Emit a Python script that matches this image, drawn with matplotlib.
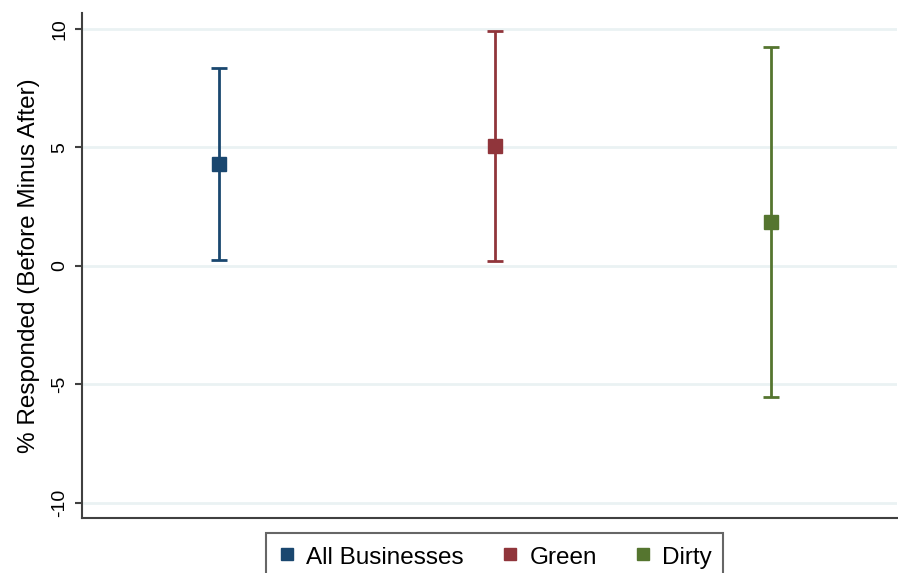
import matplotlib.pyplot as plt
import numpy as np

plt.rcParams['font.family'] = ['Liberation Sans', 'DejaVu Sans']

# Estimates and 95% confidence bounds
groups = ['All Businesses', 'Green', 'Dirty']
estimate = [4.30, 5.06, 1.86]
ci_low = [0.25, 0.21, -5.53]
ci_high = [8.35, 9.92, 9.24]
colors = ['#1a476f', '#90353b', '#55752f']
yticks = [-10, -5, 0, 5, 10]

fig = plt.figure(figsize=(8.98, 5.73), dpi=100)
ax = fig.add_axes([0.0913, 0.096, 0.9076, 0.8813])

xpos = np.arange(1, len(groups) + 1)
for x, est, lo, hi, c, name in zip(xpos, estimate, ci_low, ci_high, colors, groups):
    ax.errorbar(x, est, yerr=[[est - lo], [hi - est]], fmt='s', color=c,
                ecolor=c, elinewidth=2, capsize=6, capthick=2, ms=9.5,
                label=name, zorder=3)

ax.set_xlim(0.504, 3.457)
ax.set_ylim(-10.65, 10.67)
ax.set_yticks(yticks)
ax.set_yticklabels([str(t) for t in yticks], rotation=90, va='center')
ax.set_xticks([])
ax.grid(axis='y', color='#eaf2f3', linewidth=2)
ax.set_axisbelow(True)

for s in ['top', 'right']:
    ax.spines[s].set_visible(False)
for s in ['left', 'bottom']:
    ax.spines[s].set_color('#404040')
    ax.spines[s].set_linewidth(1.5)
ax.tick_params(axis='y', length=5, width=1.5, color='#404040', pad=5,
               labelsize=14)

ax.set_ylabel('% Responded (Before Minus After)', fontsize=17.5, labelpad=8)

handles = [plt.Line2D([], [], marker='s', linestyle='none', color=c, ms=9)
           for c in colors]
leg = fig.legend(handles, groups, loc='upper center', ncol=3,
                 bbox_to_anchor=(0.5507, 0.0698), fontsize=17.5,
                 frameon=True, fancybox=False, handletextpad=0.4,
                 columnspacing=1.5, handlelength=0.8, handleheight=1.05,
                 borderpad=0.45, borderaxespad=0)
leg.get_frame().set_edgecolor('#404040')
leg.get_frame().set_linewidth(1.5)

fig.savefig('out.png', dpi=100)
